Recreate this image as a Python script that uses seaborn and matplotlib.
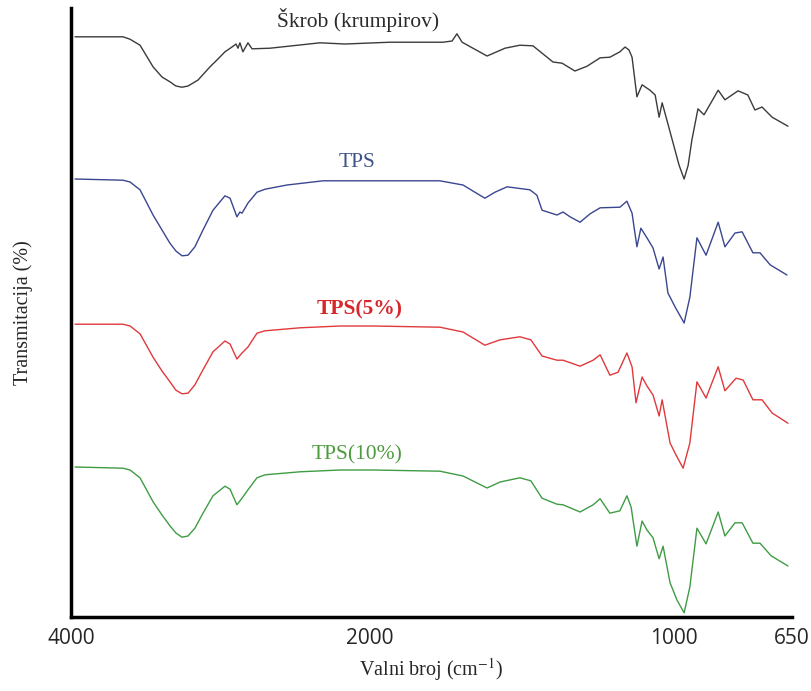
import numpy as np
import pandas as pd
import matplotlib
matplotlib.use("Agg")
import matplotlib.pyplot as plt
import seaborn as sns

# --- spectra (wavenumber in cm-1, stacked transmittance) ---
skrob_wn = [3973, 3652, 3605, 3538, 3451, 3391, 3338, 3298, 3257, 3217, 3150, 3070, 3017,
            2970, 2923, 2896, 2883, 2870, 2850, 2816, 2789, 2669, 2334, 2167, 1934, 1760,
            1730, 1714, 1697, 1615, 1556, 1507, 1464, 1398, 1368, 1326, 1286, 1243, 1211,
            1178, 1161, 1148, 1138, 1122, 1105, 1079, 1062, 1049, 1039, 1026, 1003, 985,
            970, 958, 947, 929, 911, 869, 849, 810, 781, 760, 739, 709, 662]
skrob_t = [96.7, 96.7, 96.3, 95.3, 91.7, 90.0, 89.2, 88.5, 88.3, 88.5, 89.5, 91.7, 93.0,
           94.2, 95.0, 95.5, 94.8, 95.7, 94.2, 95.7, 94.7, 94.8, 95.7, 95.5, 95.8, 95.8,
           96.0, 97.2, 95.8, 93.5, 94.8, 95.3, 95.2, 92.5, 92.3, 91.0, 91.8, 93.2, 93.3,
           94.2, 95.0, 94.5, 93.3, 86.7, 88.7, 87.8, 87.0, 83.3, 85.7, 83.3, 79.0, 75.3,
           73.0, 75.3, 79.5, 84.7, 83.7, 87.8, 86.2, 87.7, 87.0, 84.5, 85.0, 83.3, 81.8]

tps_wn = [3973, 3652, 3605, 3538, 3451, 3391, 3338, 3298, 3257, 3217, 3171, 3117, 3050,
          2970, 2936, 2890, 2870, 2856, 2816, 2756, 2702, 2555, 2314, 1990, 1770, 1694,
          1655, 1622, 1589, 1549, 1474, 1451, 1434, 1385, 1365, 1342, 1309, 1276, 1243,
          1178, 1155, 1138, 1122, 1109, 1089, 1069, 1049, 1036, 1020, 997, 970, 953, 932,
          905, 869, 849, 819, 798, 766, 745, 715, 665]
tps_t = [73.0, 72.8, 72.5, 71.2, 67.0, 64.5, 62.3, 61.0, 60.2, 60.3, 61.7, 64.5, 67.8,
         70.2, 69.8, 66.7, 67.5, 67.3, 69.0, 70.8, 71.3, 72.0, 72.7, 72.7, 72.7, 72.0,
         70.8, 69.8, 70.8, 71.7, 71.2, 70.3, 67.8, 67.0, 67.5, 66.7, 65.8, 67.2, 68.2,
         68.3, 69.3, 67.3, 61.7, 64.8, 63.2, 61.5, 58.0, 60.0, 54.0, 51.7, 49.0, 53.3, 63.2,
         60.3, 65.8, 61.7, 64.0, 64.2, 60.7, 60.7, 58.7, 57.0]

tps5_wn = [3973, 3652, 3605, 3538, 3451, 3391, 3338, 3298, 3257, 3217, 3171, 3117, 3050,
           2970, 2936, 2890, 2856, 2816, 2756, 2702, 2468, 2201, 1990, 1770, 1694, 1622,
           1572, 1507, 1471, 1434, 1385, 1365, 1309, 1266, 1243, 1211, 1184, 1155, 1138,
           1125, 1105, 1089, 1069, 1049, 1039, 1013, 994, 973, 953, 932, 905, 869, 849, 816,
           795, 766, 739, 709, 662]
tps5_t = [48.8, 48.8, 48.5, 47.2, 43.3, 41.0, 39.2, 37.8, 37.2, 37.3, 38.7, 41.2, 44.2,
          46.0, 45.5, 43.0, 44.0, 45.0, 47.3, 47.7, 48.2, 48.5, 48.5, 48.3, 47.5, 45.3,
          46.2, 46.7, 46.2, 43.5, 42.8, 42.8, 41.8, 42.8, 43.7, 40.3, 40.8, 44.0, 41.7,
          35.7, 40.0, 38.5, 37.0, 33.5, 36.2, 29.0, 27.0, 24.8, 29.0, 39.2, 36.5, 41.7, 37.7,
          39.8, 39.5, 36.2, 36.2, 34.0, 32.3]

tps10_wn = [3973, 3652, 3605, 3538, 3451, 3391, 3338, 3298, 3257, 3217, 3171, 3117, 3050,
            2970, 2936, 2890, 2856, 2816, 2756, 2702, 2468, 2201, 1990, 1770, 1694, 1615,
            1572, 1507, 1471, 1434, 1385, 1365, 1309, 1266, 1243, 1211, 1178, 1155, 1141,
            1122, 1105, 1089, 1069, 1049, 1036, 1013, 991, 970, 953, 932, 905, 869, 849, 819,
            798, 766, 745, 712, 662]
tps10_t = [25.0, 24.8, 24.5, 23.2, 19.2, 17.0, 15.2, 14.0, 13.3, 13.5, 14.8, 17.3, 20.2,
           21.8, 21.3, 18.7, 19.8, 21.2, 23.2, 23.7, 24.2, 24.5, 24.5, 24.3, 23.5, 21.5,
           22.5, 23.2, 22.7, 19.8, 18.8, 18.7, 17.5, 18.7, 19.7, 17.3, 17.7, 20.2, 18.3,
           11.8, 16.0, 14.5, 13.2, 9.7, 11.8, 5.7, 2.8, 0.7, 5.0, 14.8, 12.2, 17.5, 13.5,
           15.7, 15.7, 12.3, 12.3, 10.2, 8.5]

labels = ["Škrob (krumpirov)", "TPS", "TPS(5%)", "TPS(10%)"]
line_colors = ["#3b3b3b", "#3a4690", "#e0393c", "#3f9c44"]
text_colors = ["#2b2b2b", "#3c5288", "#d9262b", "#4c9a3c"]
label_pos = [(2080, 99.5), (2087, 75.7), (2067, 51.3), (2087, 27.0)]

ticks = [4000, 2000, 1000, 650]

# instrument style axis: scale doubles below 2000 cm-1
brk_wn = [650, 1000, 2000, 4000]
brk_pos = [0, 118, 422, 721]


def fwd(x):
    return np.interp(x, brk_wn, brk_pos)


def inv(p):
    return np.interp(p, brk_pos, brk_wn)


spectra = [(skrob_wn, skrob_t), (tps_wn, tps_t), (tps5_wn, tps5_t), (tps10_wn, tps10_t)]
frames = []
for name, (wn, t) in zip(labels, spectra):
    frames.append(pd.DataFrame({"wn": wn, "t": t, "sample": name}))
data = pd.concat(frames, ignore_index=True)

sns.set_style("white")
plt.rcParams["mathtext.fontset"] = "stix"

fig = plt.figure(figsize=(8.11, 6.91), dpi=100)
ax = fig.add_axes([0.0875, 0.1071, 0.8891, 0.8813])
ax.set_xscale("function", functions=(fwd, inv))

for name, col in zip(labels, line_colors):
    sub = data[data["sample"] == name]
    sns.lineplot(x=sub["wn"], y=sub["t"], color=col, lw=1.0, ax=ax, estimator=None)

for name, col, (x, y) in zip(labels, text_colors, label_pos):
    ax.text(x, y, name, color=col, ha="center", va="center", fontsize=15.5,
            family="Liberation Serif",
            fontweight="bold" if name == "TPS(5%)" else "normal")

ax.set_xlim(4000, 650)
ax.set_ylim(0, 101.5)
ax.set_xticks(ticks)
ax.set_xticklabels([str(t) for t in ticks], fontsize=15, family="Open Sans")
ax.set_yticks([])
ax.tick_params(axis="x", direction="out", length=6, width=2, pad=2, color="black")

for s in ["top", "right"]:
    ax.spines[s].set_visible(False)
for s in ["left", "bottom"]:
    ax.spines[s].set_linewidth(2.5)
    ax.spines[s].set_color("black")

ax.set_xlabel("Valni broj (cm$^{-1}$)", fontsize=14.5, family="Liberation Serif", labelpad=5)
ax.set_ylabel("Transmitacija (%)", fontsize=14.5, family="Liberation Serif", labelpad=27)

fig.savefig("out.png", dpi=100)
